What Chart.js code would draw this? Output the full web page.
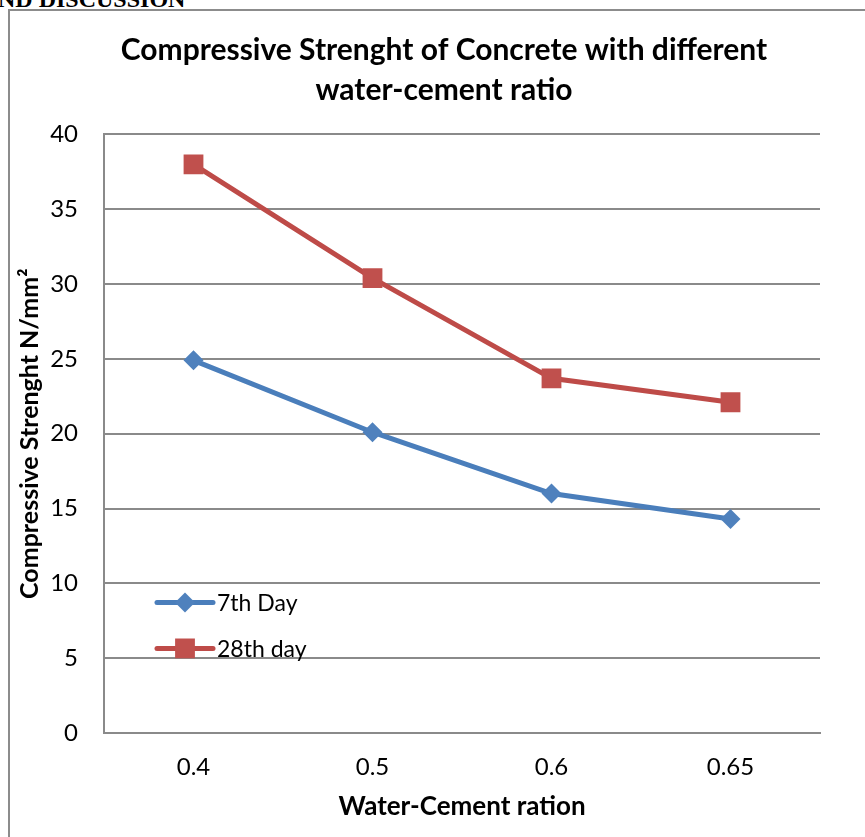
<!DOCTYPE html>
<html>
<head>
<meta charset="utf-8">
<script src="https://cdn.jsdelivr.net/npm/chart.js@4.4.0/dist/chart.umd.min.js"></script>
<style>
  html, body { margin: 0; padding: 0; background: #fff; overflow: hidden; }
  #page { position: relative; width: 865px; height: 837px; }
  #head {
    position: absolute; left: -2px; top: -13px;
    font: bold 24px "Liberation Serif", serif; line-height: 1; white-space: nowrap;
  }
  #frame {
    position: absolute; left: 8px; top: 9px; width: 870px; height: 840px;
    border-left: 2px solid #8c8c8c; border-top: 2px solid #8c8c8c;
  }
  #wrap { position: absolute; left: 0; top: 0; width: 865px; height: 837px; }
</style>
</head>
<body>
<div id="page">
  <div id="head">ND DISCUSSION</div>
  <div id="frame"></div>
  <div id="wrap"><canvas id="myChart"></canvas></div>
</div>
<script>
const ratios = ['0.4', '0.5', '0.6', '0.65'];
const day7 = [24.9, 20.1, 16.0, 14.3];
const day28 = [38.0, 30.4, 23.7, 22.1];
const yTicks = [0, 5, 10, 15, 20, 25, 30, 35, 40];

const FONT = 'Lato';
const gridGray = '#8a8a8a';

// Excel-style legend: short line with marker, sitting inside the plot
const insideLegend = {
  id: 'insideLegend',
  afterLayout(chart) {
    // the title in the reference is centred over the whole frame, not the canvas minus padding
    if (chart.titleBlock) chart.titleBlock.left += 68;
  },
  afterDraw(chart) {
    const ctx = chart.ctx;
    const area = chart.chartArea;
    chart.data.datasets.forEach((ds, i) => {
      const y = area.top + 468 + i * 46;
      const x0 = area.left + 53;
      ctx.save();
      ctx.strokeStyle = ds.borderColor;
      ctx.lineWidth = ds.borderWidth;
      ctx.lineCap = 'round';
      ctx.beginPath();
      ctx.moveTo(x0, y);
      ctx.lineTo(x0 + 56, y);
      ctx.stroke();
      ctx.fillStyle = ds.pointBackgroundColor;
      ctx.strokeStyle = ds.pointBackgroundColor;
      Chart.helpers.drawPoint(ctx, {
        pointStyle: ds.pointStyle, radius: ds.pointRadius, borderWidth: 0
      }, x0 + 28, y);
      ctx.fillStyle = '#000';
      ctx.font = '23px ' + FONT;
      ctx.textBaseline = 'middle';
      ctx.fillText(ds.label, x0 + 60, y + 1);
      ctx.restore();
    });
  }
};

const ctx = document.getElementById('myChart').getContext('2d');
new Chart(ctx, {
  type: 'line',
  data: {
    labels: ratios,
    datasets: [{
      label: '7th Day',
      data: day7,
      borderColor: '#4A7EBB',
      backgroundColor: '#4F81BD',
      pointBackgroundColor: '#4F81BD',
      pointBorderColor: '#4F81BD',
      borderWidth: 5,
      pointStyle: 'rectRot',
      pointRadius: 10,
      pointBorderWidth: 0,
      tension: 0
    }, {
      label: '28th day',
      data: day28,
      borderColor: '#BE4B48',
      backgroundColor: '#C0504D',
      pointBackgroundColor: '#C0504D',
      pointBorderColor: '#C0504D',
      borderWidth: 5,
      pointStyle: 'rect',
      pointRadius: 14,
      pointBorderWidth: 0,
      tension: 0
    }]
  },
  options: {
    responsive: true,
    maintainAspectRatio: false,
    animation: false,
    layout: { padding: { left: 0, right: 45, top: 0, bottom: 0 } },
    plugins: {
      legend: { display: false },
      tooltip: { enabled: false },
      title: {
        display: true,
        text: ['Compressive Strenght of Concrete with different', 'water-cement ratio'],
        color: '#000',
        font: { family: FONT, size: 30, weight: 'bold', lineHeight: 1.34 },
        padding: { top: 30, bottom: 24 }
      }
    },
    scales: {
      x: {
        offset: true,
        grid: { display: false, drawTicks: false },
        border: { display: true, color: gridGray, width: 2 },
        ticks: { color: '#000', font: { family: FONT, size: 24 }, padding: 20 },
        title: {
          display: true,
          text: 'Water-Cement ration',
          color: '#000',
          font: { family: FONT, size: 26, weight: 'bold' },
          padding: { top: 4, bottom: 15 }
        },
        afterFit: s => { s.height = 104; }
      },
      y: {
        min: 0,
        max: 40,
        afterBuildTicks: s => { s.ticks = yTicks.map(v => ({ value: v })); },
        grid: { color: gridGray, lineWidth: 2, drawTicks: false },
        border: { display: true, color: gridGray, width: 2 },
        ticks: { color: '#000', font: { family: FONT, size: 24 }, padding: 26 },
        title: {
          display: true,
          text: 'Compressive Strenght N/mm²',
          color: '#000',
          font: { family: FONT, size: 25, weight: 'bold' },
          padding: { top: 15, bottom: 0 }
        },
        afterFit: s => { s.width = 104; }
      }
    }
  },
  plugins: [insideLegend]
});
</script>
</body>
</html>
